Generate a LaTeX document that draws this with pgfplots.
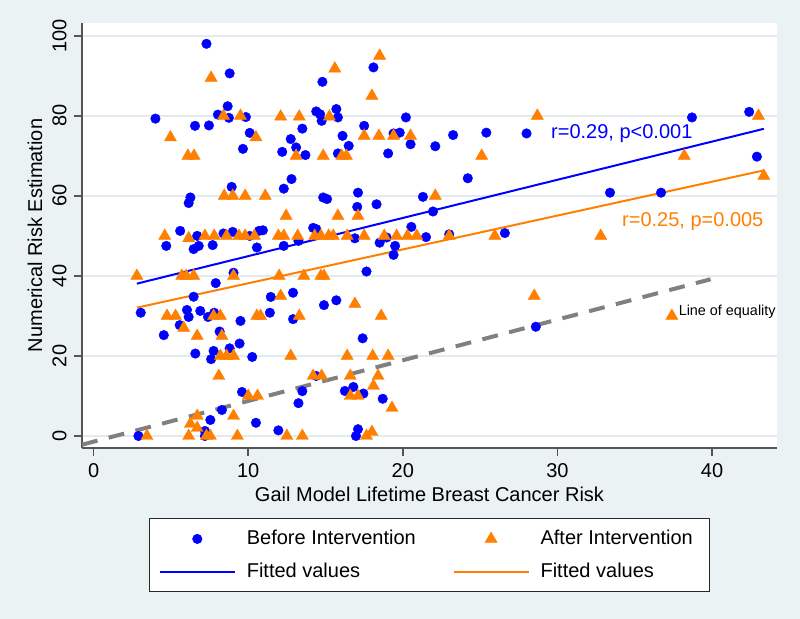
\documentclass[border=0pt]{standalone}
\usepackage{fontspec}
\setmainfont{Liberation Sans}
\usepackage{pgfplots}
\pgfplotsset{compat=1.18}
\definecolor{bg}{RGB}{234,242,243}
\definecolor{gridc}{RGB}{226,236,238}
\definecolor{sblue}{RGB}{0,0,255}
\definecolor{sorange}{RGB}{255,128,0}
\definecolor{axc}{RGB}{85,85,85}
\begin{document}
\begin{tikzpicture}
\useasboundingbox (-41pt,-85.5pt) rectangle (359pt,224pt);
\fill[bg] (-41pt,-85.5pt) rectangle (359pt,224pt);
\begin{axis}[
  scale only axis, width=347.5pt, height=212.5pt,
  at={(0,0)}, anchor=south west,
  xmin=-0.75, xmax=44.2, ymin=-3, ymax=103.2,
  axis background/.style={fill=white},
  axis x line*=bottom, axis y line*=left,
  axis line style={draw=axc, line width=0.75pt, -},
  xtick={0,10,20,30,40}, ytick={0,20,40,60,80,100},
  tick align=outside, major tick length=4pt,
  tick style={draw=axc, line width=0.75pt},
  ymajorgrids, grid style={draw=gridc, line width=0.75pt},
  /pgf/number format/assume math mode=true,
  ticklabel style={font=\normalsize},
  yticklabel style={xshift=-3.5pt, rotate=90, anchor=south, inner sep=0pt},
  xticklabel style={yshift=-3.5pt, anchor=north, inner sep=0pt},
  every axis x label/.style={at={(axis description cs:0.5,-0.1082)}, anchor=center},
  every axis y label/.style={at={(axis description cs:-0.0676,0.5)}, rotate=90, anchor=center},
  xlabel={Gail Model Lifetime Breast Cancer Risk},
  ylabel={Numerical Risk Estimation},
  legend columns=2,
  legend cell align=left,
  legend image code/.code={\draw[mark repeat=2,mark phase=2,#1] plot coordinates {(0pt,0pt) (18.75pt,0pt) (37.5pt,0pt)};},
  legend style={at={(axis description cs:0.0964,-0.1654)}, anchor=north west,
    draw=black!85, line width=0.5pt, fill=white, font=\normalsize,
    inner xsep=4.65pt, inner ysep=5.7pt, row sep=7.7pt,
    nodes={inner sep=0pt},
    /tikz/every odd column/.append style={column sep=5.5pt},
    /tikz/every even column/.append style={column sep=18.4pt}},
]
\addplot[only marks, color=sblue, mark=*, mark size=2.4pt, mark options={draw=sblue, fill=sblue, line width=0.2pt}] table {
x y
7.3 98
8.8 90.6
8.67 82.4
4.0 79.3
8.04 80.3
8.75 79.5
9.85 79.7
6.56 77.5
7.46 77.6
10.1 75.75
9.66 71.75
8.93 62.25
6.26 59.6
6.15 58.2
5.6 51.25
6.7 50
8.4 50.6
9.0 51
10.1 50
10.7 51.25
4.7 47.5
6.47 46.7
6.8 47.5
7.7 47.7
10.56 47.1
9.05 40.8
7.9 38.2
6.47 34.8
3.05 30.8
6.04 31.5
6.15 29.75
6.9 31.25
7.4 29.75
7.8 30.8
9.5 28.75
4.54 25.2
5.57 27.7
8.15 26.1
6.58 20.6
7.6 19.2
7.76 21.25
8.8 21.9
9.44 23.1
10.26 19.75
9.6 11
8.3 6.5
7.55 4
10.5 3.3
2.9 0
7.2 1.25
7.2 0
18.1 92.1
14.8 88.5
14.4 81.1
14.65 80.4
14.75 78.75
15.7 81.7
15.8 79.6
13.5 76.8
12.75 74.2
13.1 72.1
12.2 71
13.7 70.2
16.1 75
16.5 72.5
15.8 70.6
17.5 77.5
19.05 70.6
19.4 75.6
19.8 75.8
20.2 79.6
20.5 72.9
12.8 64.2
12.3 61.8
14.85 59.6
15.1 59.2
17.1 60.8
17.05 57.25
18.3 57.9
21.3 59.75
10.95 51.4
14.2 52
14.4 51.7
20.55 52.25
12.3 47.5
13.25 48.75
16.9 49.4
18.5 48.3
18.95 49.6
19.5 47.5
19.4 45.25
21.5 49.7
17.65 41.1
11.46 34.75
11.4 30.8
12.9 35.8
12.9 29.2
14.9 32.7
15.7 33.9
17.4 24.4
14.4 15
13.5 11.2
13.25 8.2
16.25 11.25
16.8 12.25
17.45 10.6
18.7 9.3
11.95 1.4
17.1 1.7
16.97 0
42.4 81
38.7 79.6
25.4 75.8
28.0 75.6
23.25 75.2
22.1 72.4
24.2 64.4
42.9 69.8
21.95 56.1
33.4 60.8
36.7 60.8
23.0 50.4
26.6 50.7
28.6 27.3
};
\addlegendentry{Before Intervention}
\addplot[only marks, color=sorange, mark=triangle*, mark size=3.5pt, mark options={draw=sorange, fill=sorange, line width=0.2pt}] table {
x y
7.6 89.5
8.4 80
9.5 80
4.97 74.6
10.5 74.6
6.1 70
6.5 70
8.45 60
9.0 60
9.8 60
11.1 60
4.6 50
6.15 49.4
7.2 50
7.8 50
8.6 50
9.4 50
9.8 50
10.4 50
11.95 50
12.3 50
13.2 50
14.3 50
14.7 50
15.2 50
15.5 50
16.4 50
17.5 50
18.8 50
19.6 50
20.3 50
20.9 50
23.0 50
25.95 50
32.8 50
2.8 40
5.7 40
6.0 40
6.47 40
9.05 40
4.75 30
5.3 30
5.83 27
6.7 25
7.76 30
8.2 30
8.3 25
10.56 30
8.2 20
8.6 20
9.05 20
8.1 15
10.0 10
10.6 10
6.7 5
6.26 3
6.7 2
9.05 5
3.45 0
6.15 0
7.3 0
7.55 0
9.3 0
18.5 95
15.6 91.8
18.0 85
12.1 79.8
13.3 79.8
15.25 79.8
17.5 75
18.45 75
19.4 75
20.5 75
13.1 70
14.85 70
16.05 70
16.35 70
12.45 55
15.8 55
17.1 55
12.0 40
13.6 40
14.7 40
14.9 40
12.1 35
16.9 33
10.8 30
13.3 30
18.6 30
12.75 20
16.4 20
18.05 20
19.05 20
14.2 15
14.75 15
16.6 15
18.4 15
18.1 12.5
16.6 10
17.1 10
19.3 7
12.5 0
13.5 0
17.65 0
18.0 1
28.7 80
43.0 80
25.1 70
38.2 70
22.1 60
43.35 65
28.5 35
37.4 30
};
\addlegendentry{After Intervention\hspace*{3.65pt}}
\addplot[sblue, line width=1pt] coordinates {(2.8,38.07) (43.35,76.76)};
\addlegendentry{Fitted values}
\addplot[sorange, line width=1pt] coordinates {(2.8,32.07) (43.35,66.37)};
\addlegendentry{Fitted values}
\addplot[gray, line width=2pt, dash pattern=on 8pt off 5.8pt, forget plot] coordinates {(-0.75,-2.18) (39.9,39.16)};
\node[anchor=base west, text=sblue, inner sep=0pt] at (axis cs:29.57,74.25) {r=0.29, p<0.001};
\node[anchor=base west, text=sorange, inner sep=0pt] at (axis cs:34.16,52.3) {r=0.25, p=0.005};
\node[anchor=base west, inner sep=0pt, font=\fontsize{7.2}{8.6}\selectfont] at (axis cs:37.82,30.0) {Line of equality};
\end{axis}
\end{tikzpicture}
\end{document}
